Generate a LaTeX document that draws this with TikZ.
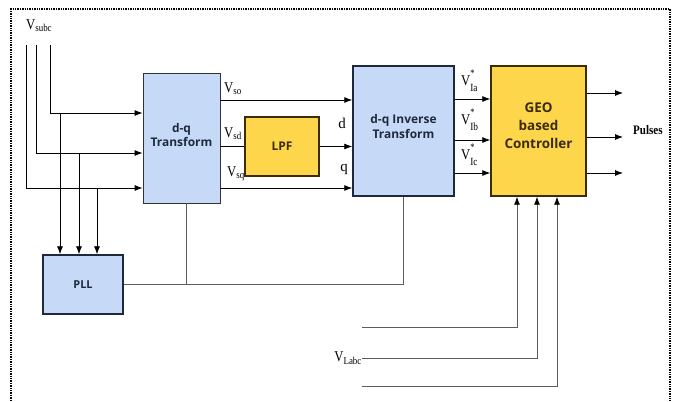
\documentclass[tikz,border=0pt]{standalone}
\usepackage{fontspec}
\setmainfont{Liberation Serif}
\newfontfamily\boxfont{Open Sans}
\usepackage{xcolor}
\usetikzlibrary{positioning, arrows.meta, calc}

\definecolor{blockblue}{HTML}{C6DAF7}
\definecolor{blockyellow}{HTML}{FDD64B}
\definecolor{blueedge}{HTML}{1E2A3C}
\definecolor{yellowedge}{HTML}{3B2C05}
\definecolor{wiregray}{HTML}{5C5C5C}

\newcommand{\volt}[1]{\scalebox{0.85}[1]{V\textsubscript{#1}}}
\newcommand{\vstar}[1]{\scalebox{0.85}[1]{V\makebox[0pt][l]{\raisebox{0.55em}{\fontsize{10}{10}\selectfont *}}\raisebox{-0.45em}{\fontsize{11}{11}\selectfont #1}}}

\begin{document}
\begin{tikzpicture}[x=1bp, y=-1bp,
    block/.style={rectangle, line width=1.4bp, inner sep=0pt, align=center, font=\boxfont\bfseries},
    blue/.style={block, fill=blockblue, draw=blueedge, text=blueedge},
    yellow/.style={block, fill=blockyellow, draw=yellowedge, text=yellowedge},
    arr/.style={-{Latex[length=8bp, width=6bp, color=black]}, line width=0.8bp},
    wire/.style={draw=wiregray, line width=0.8bp},
    lbl/.style={inner sep=0pt, font=\fontsize{15}{15}\selectfont}
]
\useasboundingbox (0,0) rectangle (677,401);

% frame
\draw[line width=1.6bp, dash pattern=on 1.4bp off 1bp] (11,401) -- (11,9) -- (670,9) -- (670,401);

% blocks
\node[blue, draw=black!80, line width=0.8bp, minimum width=77bp, minimum height=130bp, text depth=6bp,
      font=\boxfont\bfseries\fontsize{12}{14}\selectfont] (dq) at (181.5,138) {d-q\\Transform};
\node[yellow, minimum width=74bp, minimum height=59bp,
      font=\boxfont\bfseries\fontsize{12}{14}\selectfont] (lpf) at (282,146.5) {LPF};
\node[blue, minimum width=101bp, minimum height=130bp, text depth=10bp,
      font=\boxfont\bfseries\fontsize{12}{15}\selectfont] (inv) at (403.5,131) {d-q Inverse\\Transform};
\node[yellow, minimum width=95bp, minimum height=130bp, text depth=10bp,
      font=\boxfont\bfseries\fontsize{13.5}{18}\selectfont] (geo) at (538.5,131) {GEO\\based\\Controller};
\node[blue, minimum width=80bp, minimum height=59bp,
      font=\boxfont\bfseries\fontsize{11}{13}\selectfont] (pll) at (83,284.5) {PLL};

% supply voltage inputs
\coordinate (sa) at (50,45);
\coordinate (sb) at (36,45);
\coordinate (sc) at (26,45);
\node[lbl, anchor=base west] (vs) at (26,29) {\volt{subc}};
\draw[arr] (sa) |- (dq.west |- 0,113);
\draw[arr] (sb) |- (dq.west |- 0,153);
\draw[arr] (sc) |- (dq.west |- 0,188);

% taps to PLL
\coordinate (ta) at (60,113);
\coordinate (tb) at (79,153);
\coordinate (tc) at (97,188);
\draw[arr] (ta) -- (ta |- pll.north);
\draw[arr] (tb) -- (tb |- pll.north);
\draw[arr] (tc) -- (tc |- pll.north);

% d-q outputs
\draw[arr] (dq.east |- 0,100) -- (inv.west |- 0,100);
\draw[line width=0.8bp] (dq.east |- lpf.west) -- (lpf.west);
\draw[arr] (lpf.east) -- (inv.west |- lpf.east);
\draw[arr] (dq.east |- 0,188) -- (inv.west |- 0,188);
\node[lbl, anchor=base west] at (224,92) {\volt{so}};
\node[lbl, anchor=base west] at (224,137) {\volt{sd}};
\node[lbl, anchor=base west] at (227,176) {\volt{sq}};
\node[lbl, anchor=base] at (342,128) {d};
\node[lbl, anchor=base] at (344,171) {q};

% reference voltages
\draw[arr] (inv.east |- 0,99) -- (geo.west |- 0,99);
\draw[arr] (inv.east |- 0,140) -- (geo.west |- 0,140);
\draw[arr] (inv.east |- 0,173) -- (geo.west |- 0,173);
\node[lbl, anchor=base west] at (461,85) {\vstar{Ia}};
\node[lbl, anchor=base west] at (461,124) {\vstar{Ib}};
\node[lbl, anchor=base west] at (461,159) {\vstar{Ic}};

% pulses
\coordinate (pa) at (623,93);
\coordinate (pb) at (623,137);
\coordinate (pc) at (623,173);
\draw[arr] (geo.east |- pa) -- (pa);
\draw[arr] (geo.east |- pb) -- (pb);
\draw[arr] (geo.east |- pc) -- (pc);
\node[font=\bfseries\fontsize{13}{13}\selectfont, inner sep=0pt, right=10bp of pb, yshift=7bp] (pulses) {\scalebox{0.85}[1]{Pulses}};

% PLL angle
\coordinate (fb) at (186,284.5);
\draw[wire] (fb |- dq.south) -- (fb);
\draw[wire] (pll.east) -| (inv.south);

% load voltages
\coordinate (la) at (362,327);
\coordinate (lb) at (362,358);
\coordinate (lc) at (362,386);
\node[lbl, anchor=east] (vl) at (lb) {\volt{Labc}};
\draw[wire, arr] (la) -| (geo.south -| 517,0);
\draw[wire, arr] (lb) -| (geo.south -| 537,0);
\draw[wire, arr] (lc) -| (geo.south -| 557,0);

\end{tikzpicture}
\end{document}
